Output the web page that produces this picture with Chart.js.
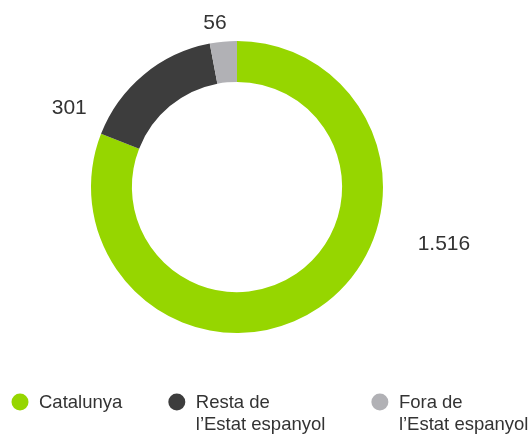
<!DOCTYPE html>
<html>
<head>
<meta charset="utf-8">
<script src="https://cdn.jsdelivr.net/npm/chart.js@4"></script>
<style>
  html, body { margin: 0; padding: 0; background: #fff; }
  #wrap { width: 532px; height: 434px; }
</style>
</head>
<body>
<div id="wrap"><canvas id="origenChart" width="532" height="434"></canvas></div>
<script>
// dades
const categories = ["Catalunya", "Resta de\nl\u2019Estat espanyol", "Fora de\nl\u2019Estat espanyol"];
const valors = [1516, 301, 56];
const colors = ["#96d600", "#3d3d3d", "#b1b1b5"];
// on es col·loca cada etiqueta de valor: [angle en graus des de dalt, distància / radi exterior]
const posEtiquetes = [[105.4, 1.47], [295.2, 1.27], [352.3, 1.13]];

const FONT = "'Liberation Sans', Arial, Helvetica, sans-serif";
const TEXT_COLOR = "#333333";

function formatCa(n) {
  return String(n).replace(/\B(?=(\d{3})+(?!\d))/g, ".");
}

// etiquetes de valor fora del donut
const valueLabels = {
  id: "valueLabels",
  afterDatasetsDraw(chart) {
    const ctx = chart.ctx;
    const meta = chart.getDatasetMeta(0);
    ctx.save();
    ctx.font = "21px " + FONT;
    ctx.fillStyle = TEXT_COLOR;
    ctx.textAlign = "center";
    ctx.textBaseline = "middle";
    meta.data.forEach((arc, i) => {
      const [deg, f] = posEtiquetes[i];
      const a = deg * Math.PI / 180;
      const r = arc.outerRadius * f;
      ctx.fillText(formatCa(valors[i]), arc.x + r * Math.sin(a), arc.y - r * Math.cos(a));
    });
    ctx.restore();
  }
};

// llegenda a sota, amb text de dues línies
const llegenda = {
  id: "llegenda",
  afterDraw(chart) {
    const ctx = chart.ctx;
    ctx.save();
    ctx.font = "18.5px " + FONT;
    ctx.textBaseline = "alphabetic";
    let x = 11.5;
    const y = 402;
    categories.forEach((cat, i) => {
      ctx.fillStyle = colors[i];
      ctx.beginPath();
      ctx.arc(x + 8.5, y, 8.5, 0, Math.PI * 2);
      ctx.fill();
      ctx.fillStyle = TEXT_COLOR;
      const lines = cat.split("\n");
      let w = 0;
      lines.forEach((l, j) => {
        ctx.fillText(l, x + 27.5, y + 6 + j * 22);
        w = Math.max(w, ctx.measureText(l).width);
      });
      x += 27.5 + w + 46;
    });
    ctx.restore();
  }
};

new Chart(document.getElementById("origenChart").getContext("2d"), {
  type: "doughnut",
  data: {
    labels: categories,
    datasets: [{
      data: valors,
      backgroundColor: colors,
      borderWidth: 0,
    }]
  },
  options: {
    responsive: false,
    animation: false,
    cutout: "72%",
    layout: { padding: { top: 41, bottom: 101, left: 91, right: 149 } },
    plugins: {
      legend: { display: false },
      tooltip: { enabled: false },
    },
  },
  plugins: [valueLabels, llegenda],
});
</script>
</body>
</html>
